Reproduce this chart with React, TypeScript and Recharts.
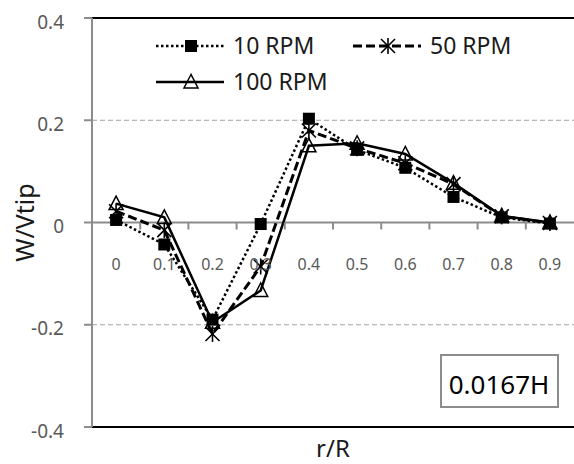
import { LineChart, Line, XAxis, YAxis, ReferenceLine, Label } from "recharts"

// r/R positions along the blade
const radius = ["0", "0.1", "0.2", "0.3", "0.4", "0.5", "0.6", "0.7", "0.8", "0.9"]

// W/Vtip
const rpm10 = [0.005, -0.043, -0.19, -0.003, 0.203, 0.142, 0.107, 0.05, 0.01, -0.002]
const rpm50 = [0.022, -0.015, -0.218, -0.086, 0.18, 0.145, 0.116, 0.075, 0.012, -0.001]
const rpm100 = [0.037, 0.01, -0.195, -0.133, 0.15, 0.155, 0.134, 0.077, 0.013, 0]

const yTicks = [-0.4, -0.2, 0, 0.2, 0.4]
const gridValues = [-0.2, 0.2]
const seriesNames = ["10 RPM", "50 RPM", "100 RPM"]
const heightLabel = "0.0167H"

const data = radius.map((r, i) => ({
  r,
  rpm10: rpm10[i],
  rpm50: rpm50[i],
  rpm100: rpm100[i],
}))

const W = 574
const H = 464
const PLOT_LEFT = 92
const PLOT_TOP = 18
const PLOT_BOTTOM = 427
const BAND = (W - PLOT_LEFT) / radius.length
const HALF_PLOT = (PLOT_BOTTOM - PLOT_TOP) / 2
const FONT = "'Noto Sans', sans-serif"
const AXIS_GRAY = "#8c8c8c"

const SquareDot = ({ cx, cy }: any) =>
  cx == null ? null : <rect x={cx - 6} y={cy - 6} width={12} height={12} fill="#000" />

const StarDot = ({ cx, cy }: any) => {
  if (cx == null) return null
  const r = 7
  return (
    <g stroke="#000" strokeWidth={1.6}>
      <line x1={cx - r} y1={cy - r} x2={cx + r} y2={cy + r} />
      <line x1={cx - r} y1={cy + r} x2={cx + r} y2={cy - r} />
      <line x1={cx} y1={cy - r - 1} x2={cx} y2={cy + r + 1} />
    </g>
  )
}

const TriangleDot = ({ cx, cy }: any) =>
  cx == null ? null : (
    <polygon
      points={`${cx},${cy - 7.5} ${cx - 7},${cy + 6} ${cx + 7},${cy + 6}`}
      fill="none"
      stroke="#000"
      strokeWidth={1.5}
    />
  )

const series = [
  { key: "rpm10", dash: "2.5 2.5", width: 2.5, Dot: SquareDot },
  { key: "rpm50", dash: "9 4", width: 3, Dot: StarDot },
  { key: "rpm100", dash: undefined, width: 2.5, Dot: TriangleDot },
]

// ticks sit on the zero line, not on the bottom of the plot
const RadiusTick = ({ x, y, payload, index }: any) => {
  const zeroY = y - HALF_PLOT
  return (
    <g>
      {index > 0 && (
        <line
          x1={x - BAND / 2}
          x2={x - BAND / 2}
          y1={zeroY}
          y2={zeroY + 7}
          stroke={AXIS_GRAY}
          strokeWidth={2}
        />
      )}
      <text x={x} y={zeroY + 47} textAnchor="middle" fontSize={16} fill="#595959" fontFamily={FONT}>
        {payload.value}
      </text>
    </g>
  )
}

const YTitle = ({ viewBox }: any) => {
  const cx = viewBox.x + 25
  const cy = viewBox.y + viewBox.height / 2
  return (
    <text
      x={cx}
      y={cy + 9}
      transform={`rotate(-90 ${cx} ${cy})`}
      textAnchor="middle"
      fontSize={25}
      fill="#1a1a1a"
      fontFamily={FONT}
    >
      W/Vtip
    </text>
  )
}

const XTitle = ({ viewBox }: any) => (
  <text
    x={viewBox.x + viewBox.width / 2}
    y={viewBox.y + 30}
    textAnchor="middle"
    fontSize={24}
    fill="#1a1a1a"
    fontFamily={FONT}
  >
    r/R
  </text>
)

const legendSlots = [
  { x: 156, y: 46 },
  { x: 353, y: 46 },
  { x: 156, y: 82 },
]

function Overlay() {
  return (
    <svg width={W} height={H} style={{ position: "absolute", left: 0, top: 0, pointerEvents: "none" }}>
      {series.map((s, i) => {
        const { x, y } = legendSlots[i]
        const Dot = s.Dot
        return (
          <g key={s.key}>
            <line x1={x} x2={x + 68} y1={y} y2={y} stroke="#000" strokeWidth={s.width} strokeDasharray={s.dash} />
            <Dot cx={x + 35} cy={y} />
            <text x={x + 77} y={y + 8} fontSize={23} fill="#1a1a1a" fontFamily={FONT}>
              {seriesNames[i]}
            </text>
          </g>
        )
      })}
      <rect x={441} y={355} width={117} height={52} fill="#fff" stroke={AXIS_GRAY} strokeWidth={2} />
      <text x={499} y={394} textAnchor="middle" fontSize={26} fill="#000" fontFamily={FONT}>
        {heightLabel}
      </text>
    </svg>
  )
}

export default function App() {
  return (
    <div style={{ position: "absolute", left: 0, top: 0, width: W, height: H, background: "#fff" }}>
      <LineChart width={W} height={H} data={data} margin={{ top: PLOT_TOP, right: 0, left: 0, bottom: 0 }}>
        <XAxis
          dataKey="r"
          height={H - PLOT_BOTTOM}
          interval={0}
          padding={{ left: BAND / 2, right: BAND / 2 }}
          axisLine={false}
          tickLine={false}
          tickSize={0}
          tickMargin={0}
          tick={<RadiusTick />}
        >
          <Label content={<XTitle />} />
        </XAxis>
        <YAxis
          width={PLOT_LEFT}
          domain={[-0.4, 0.4]}
          ticks={yTicks}
          allowDataOverflow
          axisLine={{ stroke: AXIS_GRAY, strokeWidth: 2 }}
          tickLine={{ stroke: AXIS_GRAY, strokeWidth: 2 }}
          tickSize={8}
          tickMargin={20}
          tickFormatter={(v) => `${v}`}
          tick={{ fontSize: 19, fill: "#595959", fontFamily: FONT, dy: 4 }}
        >
          <Label content={<YTitle />} />
        </YAxis>
        {gridValues.map((v) => (
          <ReferenceLine key={v} y={v} stroke="#a0a0a0" strokeDasharray="5 3" />
        ))}
        <ReferenceLine y={0.4} stroke="#000" strokeWidth={2} />
        <ReferenceLine y={-0.4} stroke="#000" strokeWidth={2} />
        <ReferenceLine y={0} stroke={AXIS_GRAY} strokeWidth={2} />
        {series.map((s) => (
          <Line
            key={s.key}
            dataKey={s.key}
            type="linear"
            stroke="#000"
            strokeWidth={s.width}
            strokeDasharray={s.dash}
            dot={(p: any) => <s.Dot key={p.index} {...p} />}
            activeDot={false}
            isAnimationActive={false}
          />
        ))}
      </LineChart>
      <Overlay />
    </div>
  )
}
